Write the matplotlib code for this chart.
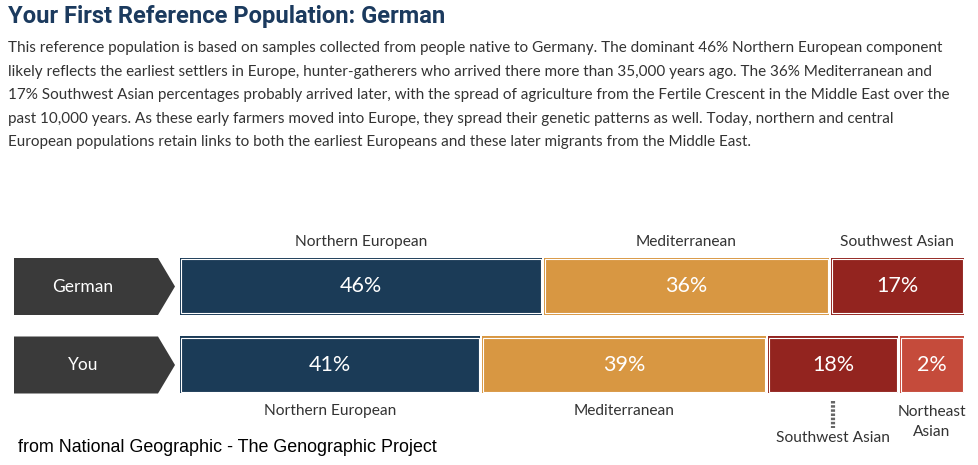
import matplotlib.pyplot as plt
from matplotlib.patches import Polygon, Rectangle

# data
rows = ["German", "You"]
german_groups = ["Northern European", "Mediterranean", "Southwest Asian"]
german_pct = [46, 36, 17]
german_width = [46.3, 36.5, 17.2]   # bar share as drawn
you_groups = ["Northern European", "Mediterranean", "Southwest Asian", "Northeast\nAsian"]
you_pct = [41, 39, 18, 2]
you_width = [38.4, 36.4, 16.8, 8.4]  # bar share as drawn

colors = {"Northern European": "#1b3b57", "Mediterranean": "#d89742",
          "Southwest Asian": "#93241f", "Northeast\nAsian": "#c54b3b"}

title = "Your First Reference Population: German"
body = [
    "This reference population is based on samples collected from people native to Germany. The dominant 46% Northern European component",
    "likely reflects the earliest settlers in Europe, hunter-gatherers who arrived there more than 35,000 years ago. The 36% Mediterranean and",
    "17% Southwest Asian percentages probably arrived later, with the spread of agriculture from the Fertile Crescent in the Middle East over the",
    "past 10,000 years. As these early farmers moved into Europe, they spread their genetic patterns as well. Today, northern and central",
    "European populations retain links to both the earliest Europeans and these later migrants from the Middle East.",
]
source = "from National Geographic - The Genographic Project"

W, H = 979, 465
fig = plt.figure(figsize=(W / 100, H / 100), dpi=100)

# overlay in pixel coordinates for text and row tags
ov = fig.add_axes([0, 0, 1, 1])
ov.set_xlim(0, W)
ov.set_ylim(H, 0)
ov.axis("off")

ov.text(8, 17, title, fontsize=17.1, fontweight="bold", color="#1b3a5e",
        family="Roboto", va="center", ha="left")
for i, line in enumerate(body):
    ov.text(8, 48 + i * 23.6, line, fontsize=11.0, color="#333333",
            family="Lato", va="center", ha="left")

# row tags (arrow boxes)
row_y = [286.5, 365]
for name, yc in zip(rows, row_y):
    pts = [(14, yc - 28.5), (158, yc - 28.5), (175, yc), (158, yc + 28.5), (14, yc + 28.5)]
    ov.add_patch(Polygon(pts, closed=True, color="#3a3a3a", lw=0))
    ov.text(83, yc, name, color="white", fontsize=12.5, family="Lato",
            ha="center", va="center")

ov.text(18, 447, source, fontsize=12.9, color="black", family="Liberation Sans",
        ha="left", va="center")

# bar axes
x0, x1 = 179, 965
y_top, y_bot = 258, 393
bx = fig.add_axes([x0 / W, 1 - y_bot / H, (x1 - x0) / W, (y_bot - y_top) / H])
h = 57 / 78.5
bx.set_xlim(0, 100)
bx.set_ylim(1 + h / 2, -h / 2)
bx.axis("off")

px = 100 / (x1 - x0)  # one pixel in data units
py = 1 / 78.5


def draw_row(ri, groups, pct, widths):
    left = 0
    centers = []
    for g, p, w in zip(groups, pct, widths):
        c = colors[g]
        bx.add_patch(Rectangle((left + px, ri - h / 2), w - 2 * px, h, color=c, lw=0))
        bx.add_patch(Rectangle((left + 2 * px, ri - h / 2 + 1.5 * py), w - 4 * px,
                               h - 3 * py, fill=False, ec="white", lw=0.8))
        cx = left + w / 2
        centers.append(cx)
        bx.text(cx, ri, f"{p}%", color="white", fontsize=15.5, family="Lato",
                ha="center", va="center")
        left += w
    return centers


gc = draw_row(0, german_groups, german_pct, german_width)
yc_ = draw_row(1, you_groups, you_pct, you_width)

lab = dict(color="#333333", fontsize=11.2, family="Lato", ha="center",
           va="center", clip_on=False)
for g, cx in zip(german_groups, gc):
    bx.text(cx, -h / 2 - 16 * py, g, **lab)

for g, cx in zip(you_groups, yc_):
    if g == "Southwest Asian":
        bx.plot([cx, cx], [1 + h / 2 + 8 * py, 1 + h / 2 + 35 * py], color="#666666",
                lw=3, ls=(0, (0.6, 0.4)), clip_on=False)
        bx.text(cx, 1 + h / 2 + 45 * py, g, **lab)
    elif "\n" in g:
        bx.text(cx, 1 + h / 2 + 29 * py, g, linespacing=1.5, **lab)
    else:
        bx.text(cx, 1 + h / 2 + 18 * py, g, **lab)

fig.savefig("out.png", dpi=100)
